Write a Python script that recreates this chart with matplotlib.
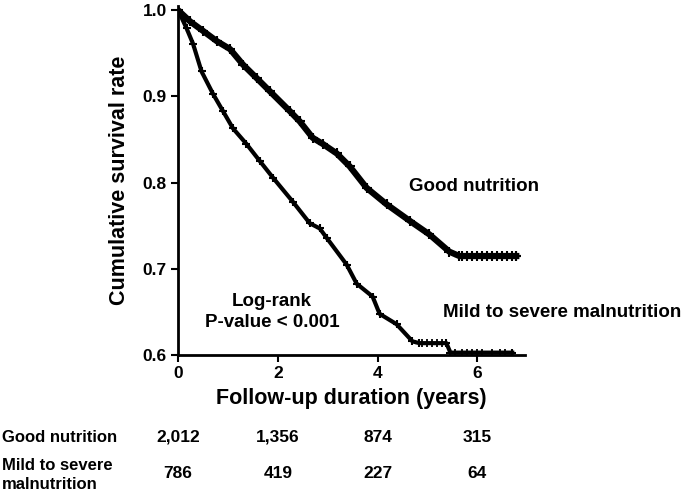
import matplotlib
matplotlib.use('Agg')
import matplotlib.pyplot as plt
import matplotlib.transforms as mtransforms
import numpy as np

plt.rcParams['font.family'] = ['Liberation Sans', 'DejaVu Sans']
plt.rcParams['font.weight'] = 'bold'

# survival curves (years, survival)
good_t = [0, 0.24, 0.5, 0.78, 1.04, 1.3, 1.58, 1.84, 2.24, 2.44, 2.7, 2.9, 3.18, 3.44,
          3.78, 4.18, 4.64, 5.04, 5.44, 5.64, 6.78]
good_s = [1.0, 0.987, 0.976, 0.964, 0.955, 0.937, 0.921, 0.906, 0.883, 0.871, 0.852,
          0.845, 0.834, 0.819, 0.794, 0.775, 0.756, 0.74, 0.72, 0.715, 0.715]
good_cens = [5.7, 5.8, 5.9, 6.0, 6.1, 6.2, 6.3, 6.4, 6.5, 6.6, 6.7, 6.78]

mal_t = [0, 0.17, 0.3, 0.47, 0.7, 0.9, 1.1, 1.37, 1.64, 1.9, 2.3, 2.64, 2.84, 2.98,
         3.38, 3.58, 3.9, 4.04, 4.38, 4.7, 4.84, 5.38, 5.46, 6.7]
mal_s = [1.0, 0.979, 0.961, 0.929, 0.903, 0.883, 0.863, 0.845, 0.825, 0.806, 0.778,
         0.753, 0.747, 0.736, 0.705, 0.683, 0.668, 0.648, 0.636, 0.616, 0.614, 0.614,
         0.603, 0.603]
mal_cens = [4.9, 5.0, 5.1, 5.2, 5.3, 5.55, 5.7, 5.8, 5.9, 6.0, 6.1, 6.3, 6.45, 6.55, 6.7]

# numbers at risk
risk_times = [0, 2, 4, 6]
risk_good = ['2,012', '1,356', '874', '315']
risk_mal = ['786', '419', '227', '64']

fig = plt.figure(figsize=(6.85, 4.92), dpi=100)
ax = fig.add_axes([0.26, 0.278, 0.506, 0.71])

ax.plot(good_t, good_s, color='black', lw=4.5, marker='+', ms=7, mew=1.5)
ax.plot(mal_t, mal_s, color='black', lw=3, marker='+', ms=6, mew=1.5)

gy = np.interp(good_cens, good_t, good_s)
my = np.interp(mal_cens, mal_t, mal_s)
ax.plot(good_cens, gy, ls='none', marker='+', color='black', ms=7, mew=1.5)
ax.plot(mal_cens, my, ls='none', marker='+', color='black', ms=6, mew=1.3)

ax.set_xlim(0, 6.95)
ax.set_ylim(0.6, 1.005)
ax.set_xticks([0, 2, 4, 6])
ax.set_yticks([0.6, 0.7, 0.8, 0.9, 1.0])
ax.set_yticklabels(['0.6', '0.7', '0.8', '0.9', '1.0'])
ax.spines['top'].set_visible(False)
ax.spines['right'].set_visible(False)
ax.spines['left'].set_linewidth(2)
ax.spines['bottom'].set_linewidth(2)
ax.tick_params(direction='out', length=5, width=1.5, labelsize=12.5, pad=3)
for lab in ax.get_xticklabels() + ax.get_yticklabels():
    lab.set_fontweight('bold')

ax.set_xlabel('Follow-up duration (years)', fontsize=15.5, fontweight='bold', labelpad=5)
ax.set_ylabel('Cumulative survival rate', fontsize=15.5, fontweight='bold', labelpad=9)

ax.text(5.94, 0.796, 'Good nutrition', fontsize=13.5, fontweight='bold',
        ha='center', va='center')
ax.text(7.7, 0.649, 'Mild to severe malnutrition', fontsize=13.5, fontweight='bold',
        ha='center', va='center', clip_on=False)
ax.text(1.88, 0.65, 'Log-rank\nP-value < 0.001', fontsize=13.5, fontweight='bold',
        ha='center', va='center', linespacing=1.25)

# at-risk table under the plot
tr = mtransforms.blended_transform_factory(ax.transData, fig.transFigure)
fig.text(0.003, 1 - 437 / 492, 'Good nutrition', fontsize=12, fontweight='bold',
         ha='left', va='center')
fig.text(0.003, 1 - 475 / 492, 'Mild to severe\nmalnutrition', fontsize=12,
         fontweight='bold', ha='left', va='center', linespacing=1.4)
for t, g, m in zip(risk_times, risk_good, risk_mal):
    ax.text(t, 1 - 437 / 492, g, transform=tr, fontsize=12.5, fontweight='bold',
            ha='center', va='center', clip_on=False)
    ax.text(t, 1 - 473 / 492, m, transform=tr, fontsize=12.5, fontweight='bold',
            ha='center', va='center', clip_on=False)

fig.savefig('out.png', dpi=100)
